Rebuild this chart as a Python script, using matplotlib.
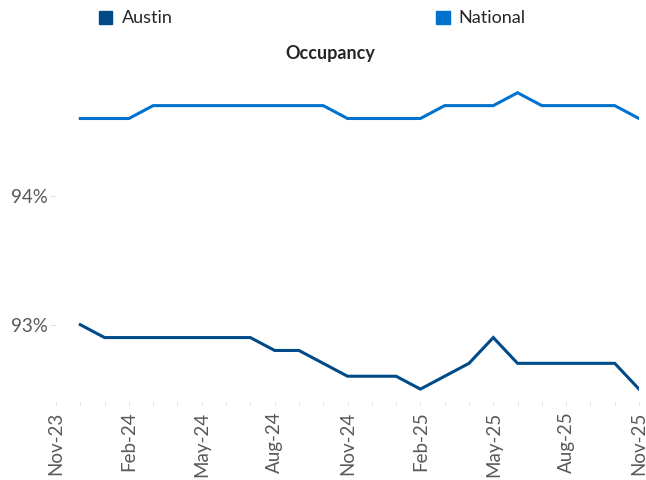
import matplotlib.pyplot as plt
from matplotlib.patches import Patch

# monthly data, Dec-23 .. Nov-25
months = ['Dec-23', 'Jan-24', 'Feb-24', 'Mar-24', 'Apr-24', 'May-24', 'Jun-24', 'Jul-24',
          'Aug-24', 'Sep-24', 'Oct-24', 'Nov-24', 'Dec-24', 'Jan-25', 'Feb-25', 'Mar-25',
          'Apr-25', 'May-25', 'Jun-25', 'Jul-25', 'Aug-25', 'Sep-25', 'Oct-25', 'Nov-25']
austin = [93.0, 92.9, 92.9, 92.9, 92.9, 92.9, 92.9, 92.9, 92.8, 92.8, 92.7, 92.6,
          92.6, 92.6, 92.5, 92.6, 92.7, 92.9, 92.7, 92.7, 92.7, 92.7, 92.7, 92.5]
national = [94.6, 94.6, 94.6, 94.7, 94.7, 94.7, 94.7, 94.7, 94.7, 94.7, 94.7, 94.6,
            94.6, 94.6, 94.6, 94.7, 94.7, 94.7, 94.8, 94.7, 94.7, 94.7, 94.7, 94.6]
tick_labels = ['Nov-23', 'Feb-24', 'May-24', 'Aug-24', 'Nov-24', 'Feb-25', 'May-25', 'Aug-25', 'Nov-25']

c_austin = '#004A87'
c_national = '#0072CE'
grey = '#595959'

plt.rcParams['font.family'] = ['Lato', 'DejaVu Sans']

fig = plt.figure(figsize=(6.46, 4.8), dpi=100)
ax = fig.add_axes([0.0867, 0.1625, 0.9025, 0.698])

x = list(range(1, len(months) + 1))
ax.plot(x, austin, color=c_austin, lw=2.2, solid_joinstyle='miter')
ax.plot(x, national, color=c_national, lw=2.2, solid_joinstyle='miter')

ax.set_xlim(0, 24)
ax.set_ylim(92.4, 95.0)
ax.set_yticks([93, 94])
ax.set_yticklabels(['93%', '94%'])
ax.set_xticks(range(0, 25, 3))
ax.set_xticklabels(tick_labels, rotation=90)
ax.set_xticks(range(0, 25), minor=True)

for s in ax.spines.values():
    s.set_visible(False)
ax.tick_params(axis='both', which='both', colors='#E3E3E3', labelcolor=grey, labelsize=13.5)
ax.tick_params(axis='x', which='both', length=3, width=0.8, pad=4)
ax.tick_params(axis='y', length=4, width=0.8, pad=2)

ax.set_title('Occupancy', fontsize=13, fontweight='bold', color='#262626', pad=6, x=0.47)

handles = [Patch(color=c_austin, label='Austin'), Patch(color=c_national, label='National')]
fig.legend(handles=handles, loc='upper left', bbox_to_anchor=(0.128, 1.012), ncol=2,
           frameon=False, fontsize=13, handlelength=0.75, handleheight=0.75,
           handletextpad=0.5, columnspacing=14.6, labelcolor='#262626')

fig.savefig('out.png', dpi=100)
